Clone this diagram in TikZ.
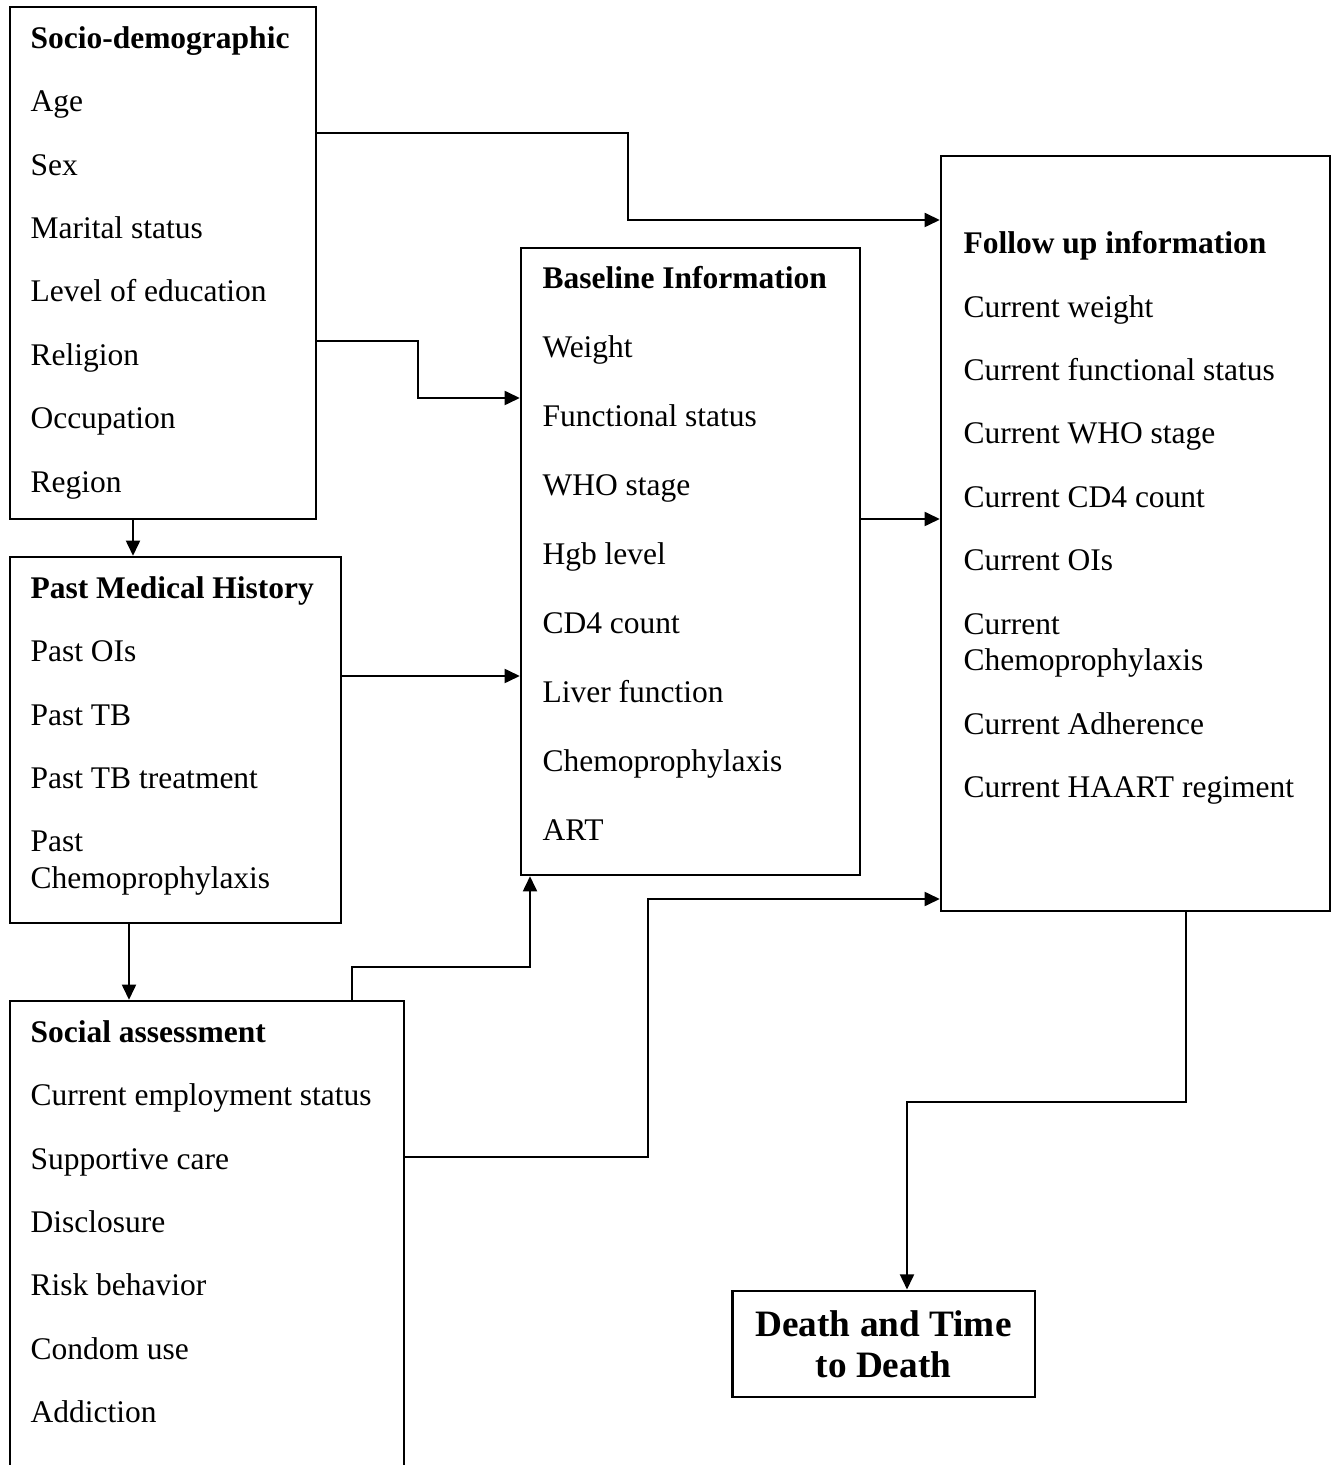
\documentclass[tikz,border=0pt]{standalone}
\usepackage{fontspec}
\setmainfont{Liberation Serif}
\usepackage{tikz}
\usetikzlibrary{arrows.meta,fit}

\begin{document}
\begin{tikzpicture}[
        x=0.381pt, y=-0.381pt,
        box/.style={rectangle, draw, line width=0.9pt, inner sep=0pt},
        txt/.style={anchor=north west, inner sep=0pt, align=left, font=\fontsize{12}{14}\selectfont},
        line/.style={draw, line width=0.9pt, -{Triangle[length=5.8pt,width=5.3pt]}}
    ]
        \useasboundingbox (0,0) rectangle (1339,1465);
        \clip (0,0) rectangle (1339,1465);

        % boxes
        \node [box, fit={(10,7) (316,519)}] (sd) {};
        \node [box, fit={(10,557) (341,923)}] (pmh) {};
        \node [box, fit={(10,1001) (404,1520)}] (soc) {};
        \node [box, fit={(521,248) (860,875)}] (bl) {};
        \node [box, fit={(941,156) (1330,911)}] (fu) {};
        \node [box, line width=1.1pt, minimum width=115.4pt, minimum height=40.4pt, align=center,
               font=\fontsize{14.2}{15.6}\selectfont\bfseries] (death) at (883.5,1344) {Death and Time\\to Death};

        % box contents
        \node [txt] (sdtxt) at (30,26) {\textbf{Socio-demographic}\\[10.15pt] Age\\[10.15pt] Sex\\[10.15pt]
            Marital status\\[10.15pt] Level of education\\[10.15pt] Religion\\[10.15pt] Occupation\\[10.15pt] Region};
        \node [txt] (pmhtxt) at (30,576) {\textbf{Past Medical History}\\[10.15pt] Past OIs\\[10.15pt] Past TB\\[10.15pt]
            Past TB treatment\\[10.15pt] Past\\ Chemoprophylaxis};
        \node [txt] (soctxt) at (30,1020) {\textbf{Social assessment}\\[10.15pt] Current employment status\\[10.15pt]
            Supportive care\\[10.15pt] Disclosure\\[10.15pt] Risk behavior\\[10.15pt] Condom use\\[10.15pt] Addiction};
        \node [txt] (bltxt) at (542,266) {\textbf{Baseline Information}\\[12.3pt] Weight\\[12.3pt] Functional status\\[12.3pt]
            WHO stage\\[12.3pt] Hgb level\\[12.3pt] CD4 count\\[12.3pt] Liver function\\[12.3pt] Chemoprophylaxis\\[12.3pt] ART};
        \node [txt] (futxt) at (963,231) {\textbf{Follow up information}\\[10.15pt] Current weight\\[10.15pt]
            Current functional status\\[10.15pt] Current WHO stage\\[10.15pt] Current CD4 count\\[10.15pt] Current OIs\\[10.15pt]
            Current\\ Chemoprophylaxis\\[10.15pt] Current Adherence\\[10.15pt] Current HAART regiment};

        % connectors
        \path [line] (sd.east |- 0,133) -| (628,220) -- (fu.west |- 0,220);
        \path [line] (sd.east |- 0,341) -| (418,398) -- (bl.west |- 0,398);
        \path [line] (sd.south -| 133,0) -- (pmh.north -| 133,0);
        \path [line] (pmh.east |- 0,676) -- (bl.west |- 0,676);
        \path [line] (pmh.south -| 129,0) -- (soc.north -| 129,0);
        \path [line] (soc.north -| 352,0) |- (530,967) -- (bl.south -| 530,0);
        \path [line] (soc.east |- 0,1157) -| (648,899) -- (fu.west |- 0,899);
        \path [line] (bl.east |- 0,519) -- (fu.west |- 0,519);
        \path [line] (fu.south -| 1186,0) |- (907,1102) -- (death.north -| 907,0);
    \end{tikzpicture}
\end{document}
